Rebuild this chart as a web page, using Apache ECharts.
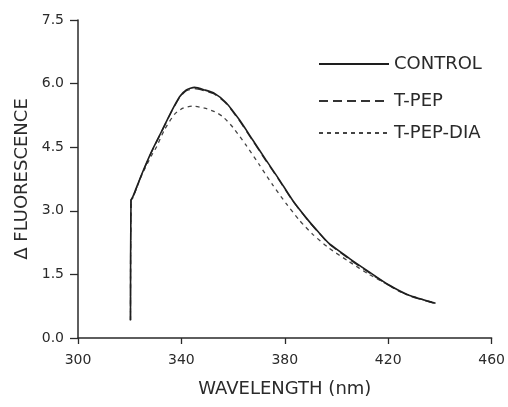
<!DOCTYPE html>
<html>
<head>
<meta charset="utf-8">
<script src="https://cdn.jsdelivr.net/npm/echarts@6/dist/echarts.min.js"></script>
<style>
html,body{margin:0;padding:0;background:#fff;}
#c{width:508px;height:407px;}
</style>
</head>
<body>
<div id="c"></div>
<script>
// Data
var seriesNames = ['CONTROL', 'T-PEP', 'T-PEP-DIA'];
var controlData = [
  [320.3, 0.42], [320.5, 3.25], [321.2, 3.33], [324.5, 3.84], [328.4, 4.39],
  [332.3, 4.87], [336.1, 5.34], [339.3, 5.69], [341.9, 5.85], [345.1, 5.91],
  [349.0, 5.85], [352.8, 5.77], [357.3, 5.55], [362.5, 5.14], [367.6, 4.67],
  [372.7, 4.20], [377.9, 3.73], [383.0, 3.25], [389.0, 2.78], [393.0, 2.50],
  [397.1, 2.23], [404.9, 1.88], [412.6, 1.56], [420.3, 1.25], [428.0, 1.01],
  [438.3, 0.82]
];
var tpepData = [
  [320.3, 0.42], [320.5, 3.25], [321.2, 3.31], [324.5, 3.83], [328.4, 4.38],
  [332.3, 4.86], [336.1, 5.33], [339.3, 5.67], [341.9, 5.83], [345.1, 5.88],
  [349.0, 5.83], [352.8, 5.75], [357.3, 5.53], [362.5, 5.12], [367.6, 4.65],
  [372.7, 4.18], [377.9, 3.71], [383.0, 3.24], [389.0, 2.77], [393.0, 2.49],
  [397.1, 2.22], [404.9, 1.86], [412.6, 1.54], [420.3, 1.24], [428.0, 1.00],
  [438.3, 0.81]
];
var diaData = [
  [320.3, 0.42], [320.5, 3.25], [321.2, 3.30], [324.5, 3.82], [328.4, 4.30],
  [330.3, 4.50], [333.5, 4.92], [337.4, 5.28], [340.6, 5.42], [344.5, 5.47],
  [349.0, 5.42], [352.8, 5.34], [356.0, 5.22], [359.9, 4.97], [365.0, 4.55],
  [370.2, 4.08], [375.3, 3.61], [380.4, 3.18], [385.6, 2.78], [390.7, 2.45],
  [397.1, 2.12], [404.9, 1.80], [412.6, 1.50], [417.7, 1.33], [425.0, 1.08],
  [432.0, 0.93], [438.3, 0.82]
];
var xTicks = [300, 340, 380, 420, 460];
var yTicks = [0.0, 1.5, 3.0, 4.5, 6.0, 7.5];
var xName = 'WAVELENGTH (nm)';
var yName = '\u0394 FLUORESCENCE';

var chart = echarts.init(document.getElementById('c'), null, {renderer: 'canvas'});
var font = 'DejaVu Sans';
var ink = '#2a2a2a';

function legendFor(name, top) {
  return {
    data: [name], left: 313, top: top, orient: 'vertical',
    itemWidth: 70, itemHeight: 14, selectedMode: false,
    itemStyle: {opacity: 0, borderWidth: 0},
    textStyle: {fontFamily: font, fontSize: 18, color: ink}
  };
}

chart.setOption({
  animation: false,
  backgroundColor: '#fff',
  grid: {left: 78, right: 15, top: 20, bottom: 69},
  legend: [
    legendFor(seriesNames[0], 50),
    legendFor(seriesNames[1], 87),
    legendFor(seriesNames[2], 119)
  ],
  xAxis: {
    type: 'value', min: xTicks[0], max: xTicks[xTicks.length - 1], interval: 40,
    name: xName, nameLocation: 'middle', nameGap: 42,
    nameTextStyle: {fontFamily: font, fontSize: 18, color: ink},
    axisLine: {onZero: false, lineStyle: {color: ink, width: 1.5}},
    axisTick: {show: true, length: 6, lineStyle: {color: ink, width: 1.3}},
    axisLabel: {fontFamily: font, fontSize: 14, color: ink, margin: 15},
    splitLine: {show: false}
  },
  yAxis: {
    type: 'value', min: yTicks[0], max: yTicks[yTicks.length - 1], interval: 1.5,
    name: yName, nameLocation: 'middle', nameGap: 31,
    nameTextStyle: {fontFamily: font, fontSize: 18, color: ink},
    axisLine: {show: true, lineStyle: {color: ink, width: 1.5}},
    axisTick: {show: true, length: 8, lineStyle: {color: ink, width: 1.3}},
    axisLabel: {fontFamily: font, fontSize: 14, color: ink, margin: 14,
      formatter: function (v) { return v.toFixed(1); }},
    splitLine: {show: false}
  },
  series: [
    {name: seriesNames[0], type: 'line', data: controlData, symbol: 'none', smooth: 0.2,
     z: 3, lineStyle: {color: '#1e1e1e', width: 1.6, type: 'solid'}, itemStyle: {color: '#1e1e1e'}},
    {name: seriesNames[1], type: 'line', data: tpepData, symbol: 'none', smooth: 0.2,
     z: 2, lineStyle: {color: '#333', width: 1.3, type: [9, 5]}, itemStyle: {color: '#333'}},
    {name: seriesNames[2], type: 'line', data: diaData, symbol: 'none', smooth: 0.2,
     z: 2, lineStyle: {color: '#444', width: 1.3, type: [4, 4]}, itemStyle: {color: '#444'}}
  ]
});
</script>
</body>
</html>
